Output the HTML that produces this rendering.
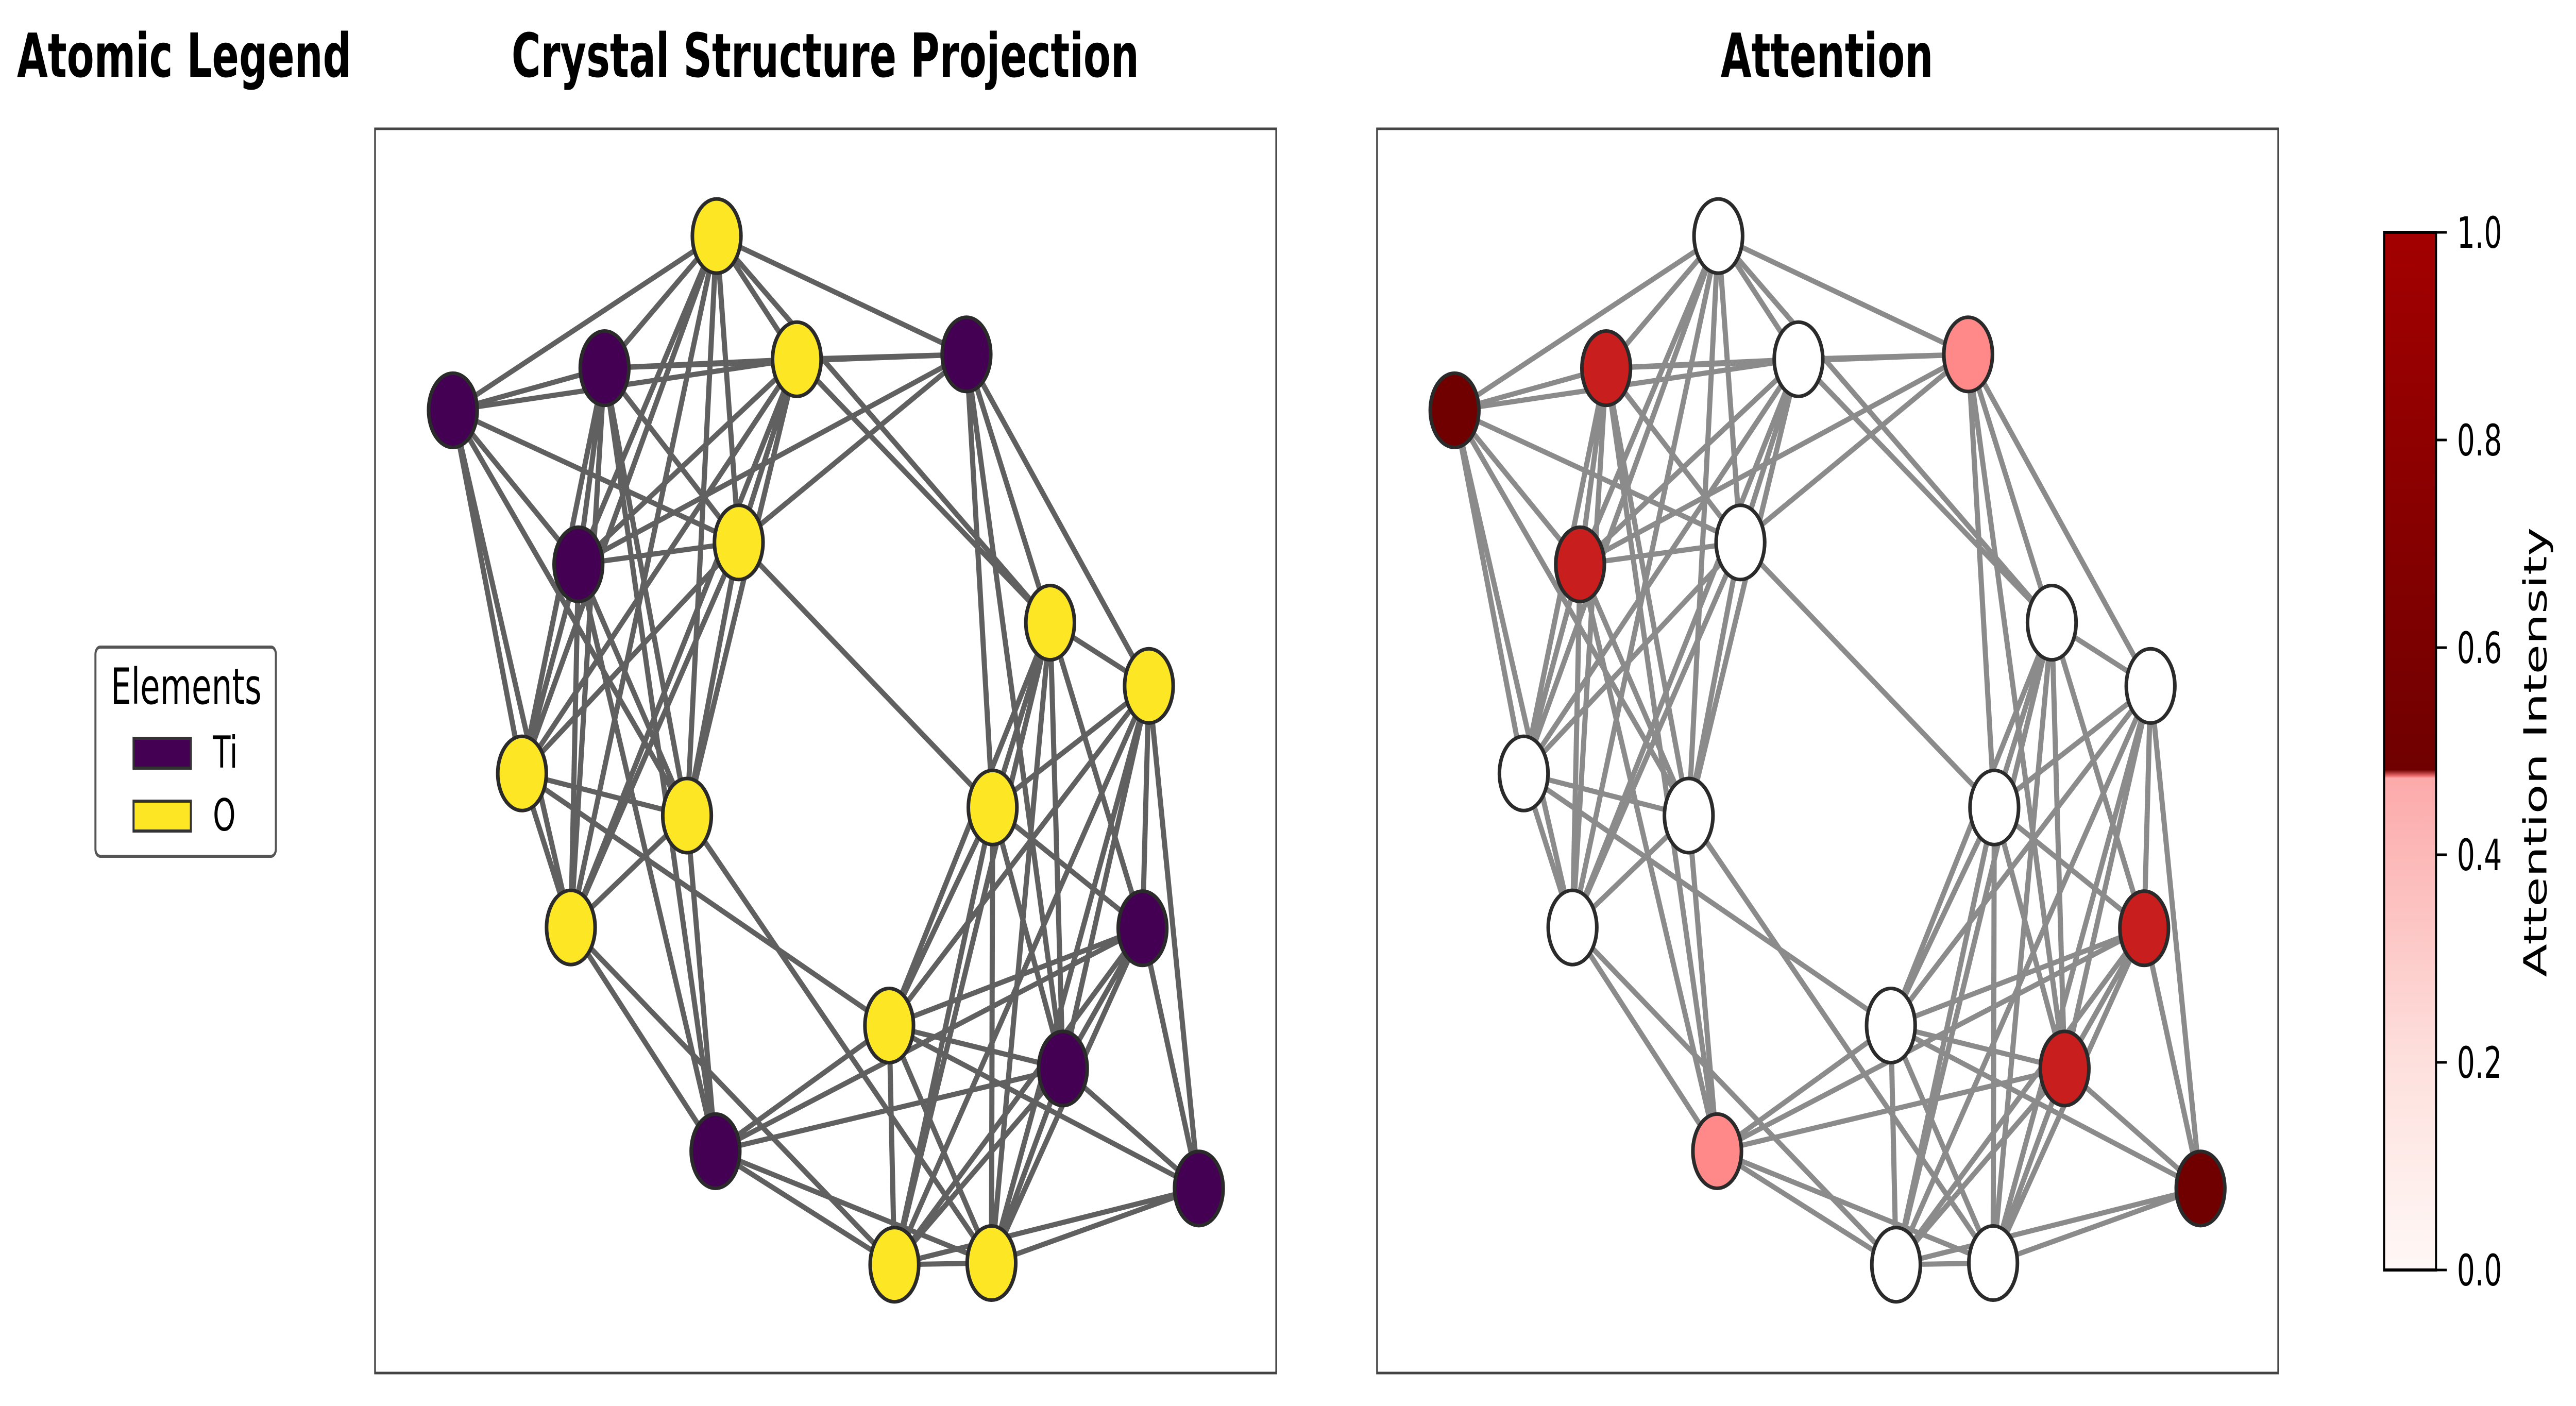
<!DOCTYPE html>
<html><head><meta charset="utf-8"><style>html,body{margin:0;padding:0;background:#fff;overflow:hidden;width:100%;height:100%}svg{display:block;width:100vw;height:100vh}</style></head>
<body>
<svg viewBox="0 0 7638 2729" preserveAspectRatio="none" xmlns="http://www.w3.org/2000/svg" font-family="'DejaVu Sans','Liberation Sans',sans-serif">
<defs>
<linearGradient id="cb" x1="0" y1="1" x2="0" y2="0">
<stop offset="0" stop-color="#fff8f6"/>
<stop offset="0.2" stop-color="#fde0dd"/>
<stop offset="0.474" stop-color="#fcaaaa"/>
<stop offset="0.476" stop-color="#f07070"/>
<stop offset="0.482" stop-color="#700000"/>
<stop offset="1" stop-color="#a30000"/>
</linearGradient>
<g id="edges">
<path vector-effect="non-scaling-stroke" fill="none" d="
M595,145L402,308 M595,145L141,360 M595,145L733,297 M595,145L1025,291 M595,145L357,550 M595,145L633,523 M595,145L260,808 M595,145L544,860 M595,145L344,998 M595,145L1169,622
M402,308L141,360 M402,308L733,297 M402,308L1025,291 M402,308L357,550 M402,308L260,808 M402,308L344,998 M402,308L544,860 M402,308L593,1274 M402,308L633,523
M141,360L733,297 M141,360L633,523 M141,360L357,550 M141,360L260,808 M141,360L344,998 M141,360L544,860
M733,297L1025,291 M733,297L357,550 M733,297L633,523 M733,297L260,808 M733,297L344,998 M733,297L544,860 M733,297L1169,622
M1025,291L357,550 M1025,291L633,523 M1025,291L1169,622 M1025,291L1339,700 M1025,291L1070,850 M1025,291L1191,1172
M357,550L633,523 M357,550L260,808 M357,550L344,998 M357,550L544,860 M357,550L593,1274
M633,523L1070,850 M633,523L260,808 M633,523L344,998 M633,523L544,860
M1169,622L1339,700 M1169,622L1070,850 M1169,622L892,1119 M1169,622L1191,1172 M1169,622L901,1414 M1169,622L1068,1412 M1169,622L1328,999
M1339,700L1070,850 M1339,700L892,1119 M1339,700L901,1414 M1339,700L1068,1412 M1339,700L1191,1172 M1339,700L1328,999 M1339,700L1425,1320
M260,808L544,860 M260,808L892,1119 M260,808L344,998
M544,860L344,998 M544,860L593,1274 M544,860L1068,1412
M1070,850L892,1119 M1070,850L901,1414 M1070,850L1068,1412 M1070,850L1328,999 M1070,850L1191,1172
M344,998L593,1274 M344,998L901,1414
M1328,999L892,1119 M1328,999L593,1274 M1328,999L901,1414 M1328,999L1068,1412 M1328,999L1191,1172 M1328,999L1425,1320
M892,1119L593,1274 M892,1119L901,1414 M892,1119L1068,1412 M892,1119L1191,1172 M892,1119L1425,1320
M1191,1172L593,1274 M1191,1172L901,1414 M1191,1172L1068,1412 M1191,1172L1425,1320
M593,1274L901,1414 M593,1274L1068,1412
M1425,1320L901,1414 M1425,1320L1068,1412 M901,1414L1068,1412"/>
</g>
</defs>

<g font-weight="bold" font-size="118" text-anchor="middle" fill="#000">
<text x="546" y="149">Atomic Legend</text>
<text x="2447" y="149">Crystal Structure Projection</text>
<text x="5417" y="149">Attention</text>
</g>

<rect x="283" y="1256" width="535" height="406" rx="14" fill="#fff" stroke="#555" stroke-width="6"/>
<text x="552" y="1366" font-size="96" text-anchor="middle">Elements</text>
<rect x="396" y="1433" width="170" height="58" fill="#440154" stroke="#333" stroke-width="6"/>
<rect x="396" y="1555" width="170" height="58" fill="#fde725" stroke="#333" stroke-width="6"/>
<text x="631" y="1490" font-size="86">Ti</text>
<text x="631" y="1612" font-size="86">O</text>

<rect x="1112" y="250" width="2672" height="2415" fill="none" stroke="#444" stroke-width="5"/>
<rect x="4083" y="250" width="2672" height="2415" fill="none" stroke="#444" stroke-width="5"/>

<g transform="translate(1100,230) scale(1.7226,1.5733)">
<use href="#edges" stroke="#333" stroke-opacity="0.78" stroke-width="10"/>
<g stroke="#2a2a2a" stroke-width="7">
<ellipse vector-effect="non-scaling-stroke" cx="595" cy="145" rx="41.8" ry="45.8" fill="#fde725"/>
<ellipse vector-effect="non-scaling-stroke" cx="402" cy="308" rx="41.8" ry="45.8" fill="#440154"/>
<ellipse vector-effect="non-scaling-stroke" cx="141" cy="360" rx="41.8" ry="45.8" fill="#440154"/>
<ellipse vector-effect="non-scaling-stroke" cx="733" cy="297" rx="41.8" ry="45.8" fill="#fde725"/>
<ellipse vector-effect="non-scaling-stroke" cx="1025" cy="291" rx="41.8" ry="45.8" fill="#440154"/>
<ellipse vector-effect="non-scaling-stroke" cx="357" cy="550" rx="41.8" ry="45.8" fill="#440154"/>
<ellipse vector-effect="non-scaling-stroke" cx="633" cy="523" rx="41.8" ry="45.8" fill="#fde725"/>
<ellipse vector-effect="non-scaling-stroke" cx="1169" cy="622" rx="41.8" ry="45.8" fill="#fde725"/>
<ellipse vector-effect="non-scaling-stroke" cx="1339" cy="700" rx="41.8" ry="45.8" fill="#fde725"/>
<ellipse vector-effect="non-scaling-stroke" cx="260" cy="808" rx="41.8" ry="45.8" fill="#fde725"/>
<ellipse vector-effect="non-scaling-stroke" cx="544" cy="860" rx="41.8" ry="45.8" fill="#fde725"/>
<ellipse vector-effect="non-scaling-stroke" cx="1070" cy="850" rx="41.8" ry="45.8" fill="#fde725"/>
<ellipse vector-effect="non-scaling-stroke" cx="344" cy="998" rx="41.8" ry="45.8" fill="#fde725"/>
<ellipse vector-effect="non-scaling-stroke" cx="1328" cy="999" rx="41.8" ry="45.8" fill="#440154"/>
<ellipse vector-effect="non-scaling-stroke" cx="892" cy="1119" rx="41.8" ry="45.8" fill="#fde725"/>
<ellipse vector-effect="non-scaling-stroke" cx="1191" cy="1172" rx="41.8" ry="45.8" fill="#440154"/>
<ellipse vector-effect="non-scaling-stroke" cx="593" cy="1274" rx="41.8" ry="45.8" fill="#440154"/>
<ellipse vector-effect="non-scaling-stroke" cx="1425" cy="1320" rx="41.8" ry="45.8" fill="#440154"/>
<ellipse vector-effect="non-scaling-stroke" cx="901" cy="1414" rx="41.8" ry="45.8" fill="#fde725"/>
<ellipse vector-effect="non-scaling-stroke" cx="1068" cy="1412" rx="41.8" ry="45.8" fill="#fde725"/>
</g>
</g>

<g transform="translate(4070,230) scale(1.7226,1.5733)">
<use href="#edges" stroke="#333" stroke-opacity="0.57" stroke-width="10"/>
<g stroke="#2a2a2a" stroke-width="7">
<ellipse vector-effect="non-scaling-stroke" cx="595" cy="145" rx="41.8" ry="45.8" fill="#fff"/>
<ellipse vector-effect="non-scaling-stroke" cx="402" cy="308" rx="41.8" ry="45.8" fill="#c81e1e"/>
<ellipse vector-effect="non-scaling-stroke" cx="141" cy="360" rx="41.8" ry="45.8" fill="#700000"/>
<ellipse vector-effect="non-scaling-stroke" cx="733" cy="297" rx="41.8" ry="45.8" fill="#fff"/>
<ellipse vector-effect="non-scaling-stroke" cx="1025" cy="291" rx="41.8" ry="45.8" fill="#ff8888"/>
<ellipse vector-effect="non-scaling-stroke" cx="357" cy="550" rx="41.8" ry="45.8" fill="#c81e1e"/>
<ellipse vector-effect="non-scaling-stroke" cx="633" cy="523" rx="41.8" ry="45.8" fill="#fff"/>
<ellipse vector-effect="non-scaling-stroke" cx="1169" cy="622" rx="41.8" ry="45.8" fill="#fff"/>
<ellipse vector-effect="non-scaling-stroke" cx="1339" cy="700" rx="41.8" ry="45.8" fill="#fff"/>
<ellipse vector-effect="non-scaling-stroke" cx="260" cy="808" rx="41.8" ry="45.8" fill="#fff"/>
<ellipse vector-effect="non-scaling-stroke" cx="544" cy="860" rx="41.8" ry="45.8" fill="#fff"/>
<ellipse vector-effect="non-scaling-stroke" cx="1070" cy="850" rx="41.8" ry="45.8" fill="#fff"/>
<ellipse vector-effect="non-scaling-stroke" cx="344" cy="998" rx="41.8" ry="45.8" fill="#fff"/>
<ellipse vector-effect="non-scaling-stroke" cx="1328" cy="999" rx="41.8" ry="45.8" fill="#c81e1e"/>
<ellipse vector-effect="non-scaling-stroke" cx="892" cy="1119" rx="41.8" ry="45.8" fill="#fff"/>
<ellipse vector-effect="non-scaling-stroke" cx="1191" cy="1172" rx="41.8" ry="45.8" fill="#c81e1e"/>
<ellipse vector-effect="non-scaling-stroke" cx="593" cy="1274" rx="41.8" ry="45.8" fill="#ff8888"/>
<ellipse vector-effect="non-scaling-stroke" cx="1425" cy="1320" rx="41.8" ry="45.8" fill="#700000"/>
<ellipse vector-effect="non-scaling-stroke" cx="901" cy="1414" rx="41.8" ry="45.8" fill="#fff"/>
<ellipse vector-effect="non-scaling-stroke" cx="1068" cy="1412" rx="41.8" ry="45.8" fill="#fff"/>
</g>
</g>

<rect x="7069" y="451" width="154" height="2014" fill="url(#cb)" stroke="#000" stroke-width="6"/>
<g stroke="#000" stroke-width="5">
<line x1="7223" y1="451" x2="7255" y2="451"/>
<line x1="7223" y1="854" x2="7255" y2="854"/>
<line x1="7223" y1="1257" x2="7255" y2="1257"/>
<line x1="7223" y1="1659" x2="7255" y2="1659"/>
<line x1="7223" y1="2062" x2="7255" y2="2062"/>
<line x1="7223" y1="2465" x2="7255" y2="2465"/>
</g>
<g font-size="84" fill="#000">
<text x="7285" y="481">1.0</text>
<text x="7285" y="884">0.8</text>
<text x="7285" y="1287">0.6</text>
<text x="7285" y="1689">0.4</text>
<text x="7285" y="2092">0.2</text>
<text x="7285" y="2495">0.0</text>
</g>
<text transform="translate(7550,1460) rotate(-90)" font-size="94" text-anchor="middle">Attention Intensity</text>
</svg>
</body></html>
